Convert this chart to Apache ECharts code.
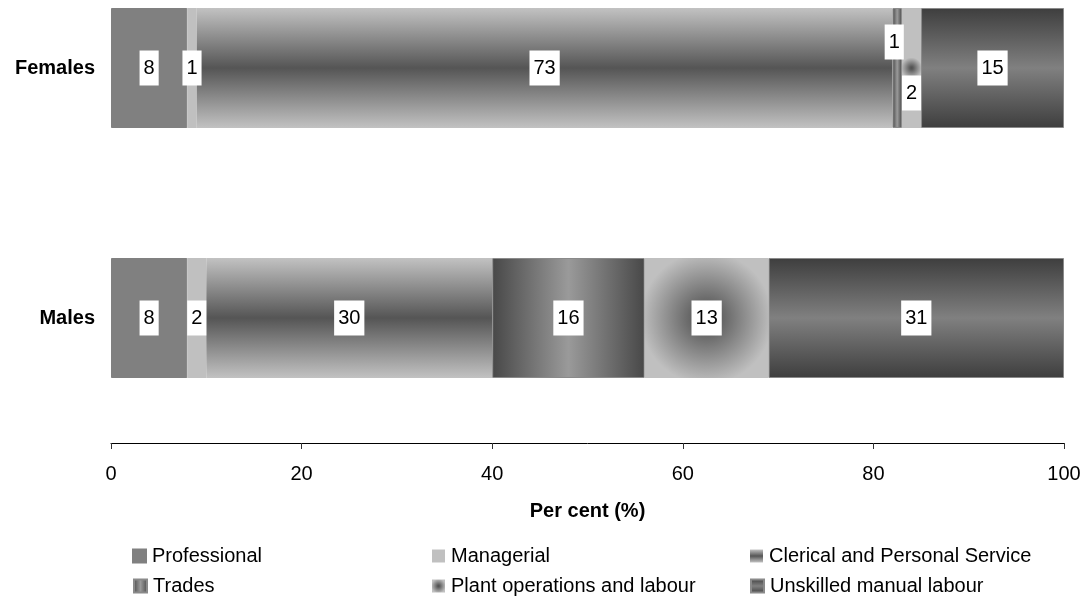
<!DOCTYPE html>
<html>
<head>
<meta charset="utf-8">
<title>Occupation by sex</title>
<script src="https://cdn.jsdelivr.net/npm/echarts@6/dist/echarts.min.js"></script>
<style>
  html, body { margin: 0; padding: 0; background: #fff; }
  #chart { width: 1088px; height: 600px; }
</style>
</head>
<body>
<div id="chart"></div>
<script>
// Share of employed persons in each occupation group (per cent)
const categories = ['Females', 'Males'];
const professional = [8, 8];
const managerial = [1, 2];
const clerical = [73, 30];
const trades = [1, 16];
const plant = [2, 13];
const unskilled = [15, 31];
const xTicks = { min: 0, max: 100, interval: 20 };

const FONT = '"Liberation Sans", Arial, sans-serif';

// Fills for each occupation group
const fills = {
  professional: '#808080',
  managerial: '#c0c0c0',
  clerical: {
    type: 'linear', x: 0, y: 0, x2: 0, y2: 1,
    colorStops: [
      { offset: 0, color: '#c2c2c2' },
      { offset: 0.5, color: '#555555' },
      { offset: 1, color: '#c2c2c2' }
    ]
  },
  trades: {
    type: 'linear', x: 0, y: 0, x2: 1, y2: 0,
    colorStops: [
      { offset: 0, color: '#484848' },
      { offset: 0.5, color: '#9a9a9a' },
      { offset: 1, color: '#484848' }
    ]
  },
  plant: {
    type: 'radial', x: 0.5, y: 0.5, r: 0.55,
    colorStops: [
      { offset: 0, color: '#505050' },
      { offset: 0.15, color: '#5a5a5a' },
      { offset: 1, color: '#c0c0c0' }
    ]
  },
  unskilled: {
    type: 'linear', x: 0, y: 0, x2: 0, y2: 1,
    colorStops: [
      { offset: 0, color: '#3e3e3e' },
      { offset: 0.5, color: '#808080' },
      { offset: 1, color: '#3e3e3e' }
    ]
  }
};

const valueLabel = {
  show: true,
  position: 'inside',
  color: '#000',
  fontFamily: FONT,
  fontSize: 20,
  backgroundColor: '#fff',
  padding: [8, 4, 7, 4],
  formatter: p => String(p.value)
};

function makeSeries(name, values, fill, border, labelOffsets) {
  return {
    name: name,
    type: 'bar',
    stack: 'total',
    barWidth: 120,
    itemStyle: { color: fill, borderColor: border, borderWidth: border ? 1 : 0 },
    label: valueLabel,
    emphasis: { disabled: true },
    data: values.map((v, i) => {
      const item = { value: v };
      if (labelOffsets && labelOffsets[i]) {
        item.label = { offset: labelOffsets[i] };
      }
      return item;
    })
  };
}

const names = [
  'Professional',
  'Managerial',
  'Clerical and Personal Service',
  'Trades',
  'Plant operations and labour',
  'Unskilled manual labour'
];

const series = [
  makeSeries(names[0], professional, fills.professional, '#808080'),
  makeSeries(names[1], managerial, fills.managerial, null),
  makeSeries(names[2], clerical, fills.clerical, null),
  makeSeries(names[3], trades, fills.trades, '#8a8a8a', [[-3, -26], null]),
  makeSeries(names[4], plant, fills.plant, null, [[0, 25], null]),
  makeSeries(names[5], unskilled, fills.unskilled, '#8a8a8a')
];

// Legend laid out as a 3 x 2 table
const legendSlots = [
  [132, 546], [432, 546], [750, 546],
  [133, 576], [432, 576], [750, 576]
];
const legends = names.map((n, i) => ({
  data: [n],
  left: legendSlots[i][0],
  top: legendSlots[i][1],
  padding: 0,
  itemWidth: 13,
  itemHeight: 13,
  icon: 'rect',
  selectedMode: false,
  textStyle: { color: '#000', fontFamily: FONT, fontSize: 20, padding: [0, 0, 0, 1] }
}));

const chart = echarts.init(document.getElementById('chart'), null, { renderer: 'canvas' });
chart.setOption({
  animation: false,
  backgroundColor: '#fff',
  textStyle: { fontFamily: FONT },
  grid: { left: 111, right: 24, top: -57, bottom: 157, outerBoundsMode: 'none', containLabel: false },
  legend: legends,
  xAxis: {
    type: 'value',
    min: xTicks.min,
    max: xTicks.max,
    interval: xTicks.interval,
    name: 'Per cent (%)',
    nameLocation: 'middle',
    nameGap: 58,
    nameTextStyle: { color: '#000', fontFamily: FONT, fontSize: 20, fontWeight: 'bold' },
    axisLine: { show: true, lineStyle: { color: '#000', width: 1 } },
    axisTick: { show: true, length: 6, lineStyle: { color: '#333' } },
    axisLabel: { color: '#000', fontFamily: FONT, fontSize: 20, margin: 21 },
    splitLine: { show: false }
  },
  yAxis: {
    type: 'category',
    data: categories,
    inverse: true,
    axisLine: { show: false },
    axisTick: { show: false },
    axisLabel: { color: '#000', fontFamily: FONT, fontSize: 20, fontWeight: 'bold', margin: 16 }
  },
  series: series
});
</script>
</body>
</html>
